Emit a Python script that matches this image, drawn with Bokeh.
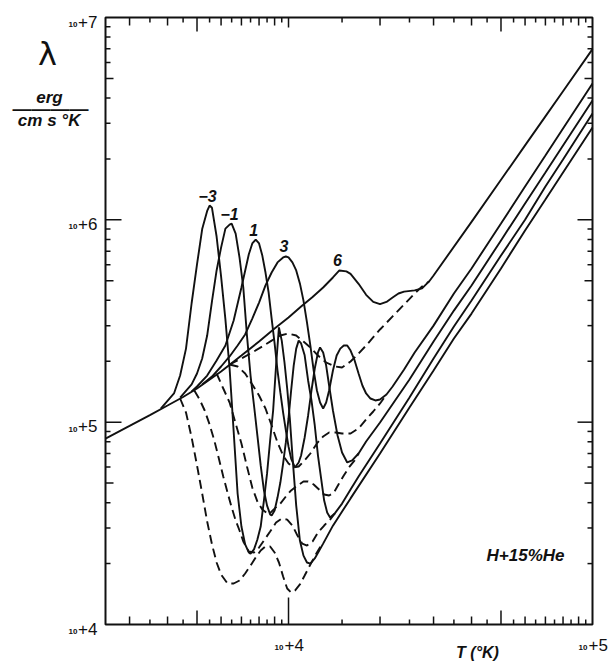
import math
from bokeh.plotting import figure
from bokeh.models import Label, ColumnDataSource, Range1d
from bokeh.core.properties import value
from bokeh.embed import file_html
from bokeh.resources import INLINE

# ---------------- data: (T [K], lambda [erg/(cm s K)]) ----------------
# solid curves, labelled by pressure parameter
solid_6 = [(2500, 8.30e4), (3000, 9.58e4), (3500, 1.084e5), (4000, 1.209e5), (4500, 1.332e5),
           (5000, 1.467e5), (6000, 1.780e5), (7000, 2.136e5), (8000, 2.504e5), (9000, 2.904e5),
           (10000, 3.290e5), (11000, 3.730e5), (12000, 4.155e5), (13000, 4.63e5), (14000, 5.19e5),
           (14700, 5.62e5), (15500, 5.56e5), (16000, 5.41e5), (17000, 4.83e5), (18000, 4.26e5),
           (19000, 3.93e5), (20000, 3.83e5), (21000, 3.93e5), (22000, 4.13e5), (23000, 4.325e5),
           (24000, 4.42e5), (26000, 4.48e5), (27500, 4.58e5), (29000, 4.96e5), (30000, 5.31e5),
           (40000, 9.77e5), (50000, 1.577e6), (60000, 2.333e6), (70000, 3.245e6), (80000, 4.32e6),
           (100000, 6.98e6)]

solid_m3 = [(3800, 1.168e5), (4200, 1.386e5), (4400, 1.70e5), (4600, 2.31e5), (4800, 3.87e5),
            (5000, 6.02e5), (5200, 9.00e5), (5400, 1.106e6), (5500, 1.177e6), (5600, 1.147e6),
            (5800, 8.27e5), (6000, 5.25e5), (6200, 3.22e5), (6400, 1.842e5), (6600, 8.99e4),
            (6800, 4.44e4), (7000, 3.05e4), (7200, 2.49e4), (7400, 2.27e4), (7500, 2.24e4),
            (7700, 2.35e4), (7900, 2.63e4), (8100, 3.05e4), (8300, 4.10e4), (8500, 5.58e4),
            (8700, 8.12e4), (8900, 1.142e5), (9100, 1.905e5), (9300, 2.94e5), (9500, 2.53e5),
            (9700, 1.972e5), (9900, 1.467e5), (10100, 1.043e5), (10300, 6.84e4), (10600, 3.87e4),
            (10900, 2.60e4), (11200, 2.19e4), (11500, 2.025e4), (11800, 2.00e4), (12200, 2.12e4),
            (13000, 2.51e4), (14000, 3.08e4), (16000, 4.20e4), (20000, 7.00e4), (25000, 1.182e5),
            (30000, 1.80e5), (35000, 2.59e5), (40000, 3.44e5), (50000, 5.75e5), (60000, 8.86e5),
            (70000, 1.259e6), (80000, 1.714e6), (100000, 2.86e6)]

solid_m1 = [(4400, 1.324e5), (4800, 1.536e5), (5000, 1.740e5), (5200, 2.064e5), (5400, 2.68e5),
            (5600, 3.95e5), (5800, 5.62e5), (6000, 7.29e5), (6200, 9.05e5), (6400, 9.47e5),
            (6500, 9.58e5), (6700, 8.55e5), (6900, 6.51e5), (7100, 4.63e5), (7300, 2.68e5),
            (7500, 1.70e5), (7700, 1.209e5), (7900, 8.59e4), (8100, 6.11e4), (8300, 4.60e4),
            (8500, 3.87e4), (8700, 3.50e4), (8800, 3.46e4), (9000, 3.66e4), (9200, 4.24e4),
            (9400, 5.03e4), (9600, 6.25e4), (9800, 7.94e4), (10000, 1.043e5), (10200, 1.434e5),
            (10400, 1.905e5), (10600, 2.31e5), (10800, 2.53e5), (11000, 2.45e5), (11300, 2.14e5),
            (11600, 1.607e5), (11900, 1.28e5), (12200, 9.63e4), (12500, 6.84e4), (12800, 5.27e4),
            (13100, 4.10e4), (13400, 3.58e4), (13700, 3.38e4), (14200, 3.54e4), (15000, 3.96e4),
            (16000, 4.65e4), (17000, 5.39e4), (20000, 7.85e4), (25000, 1.324e5), (30000, 2.064e5),
            (35000, 2.97e5), (40000, 3.99e5), (50000, 6.66e5), (60000, 1.0e6), (70000, 1.462e6),
            (80000, 1.987e6), (100000, 3.35e6)]

solid_p1 = [(4800, 1.418e5), (5000, 1.501e5), (5400, 1.70e5), (5800, 2.018e5), (6200, 2.392e5),
            (6600, 3.18e5), (7000, 4.63e5), (7400, 6.74e5), (7600, 7.64e5), (7800, 7.99e5),
            (8000, 7.64e5), (8200, 6.66e5), (8400, 5.49e5), (8600, 4.38e5), (8800, 3.25e5),
            (9000, 2.45e5), (9200, 1.80e5), (9400, 1.402e5), (9600, 1.116e5), (9800, 9.10e4),
            (10000, 7.58e4), (10200, 6.61e4), (10500, 5.97e4), (10800, 6.32e4), (11000, 6.84e4),
            (11300, 8.40e4), (11600, 1.079e5), (11900, 1.434e5), (12200, 1.842e5), (12500, 2.21e5),
            (12700, 2.34e5), (13000, 2.21e5), (13300, 1.905e5), (13600, 1.518e5), (14000, 1.142e5),
            (14500, 8.59e4), (15000, 7.08e4), (15600, 6.32e4), (16200, 6.47e4), (17000, 7.00e4),
            (18000, 8.03e4), (20000, 9.96e4), (25000, 1.625e5), (30000, 2.504e5), (35000, 3.56e5),
            (40000, 4.74e5), (50000, 7.91e5), (60000, 1.205e6), (70000, 1.714e6), (80000, 2.33e6),
            (100000, 3.89e6)]

solid_p3 = [(5200, 1.536e5), (5600, 1.681e5), (6000, 1.884e5), (6400, 2.112e5), (6800, 2.393e5),
            (7200, 2.713e5), (7600, 3.25e5), (8000, 3.90e5), (8400, 4.74e5), (8800, 5.49e5),
            (9200, 6.16e5), (9600, 6.52e5), (9800, 6.59e5), (10000, 6.52e5), (10300, 6.16e5),
            (10600, 5.62e5), (10900, 4.85e5), (11200, 3.99e5), (11500, 3.11e5), (11800, 2.392e5),
            (12100, 1.80e5), (12400, 1.434e5), (12700, 1.251e5), (13000, 1.168e5), (13300, 1.251e5),
            (13600, 1.434e5), (14000, 1.80e5), (14400, 2.136e5), (14800, 2.31e5), (15200, 2.393e5),
            (15600, 2.393e5), (16000, 2.26e5), (16500, 2.018e5), (17000, 1.740e5), (17500, 1.518e5),
            (18000, 1.386e5), (18600, 1.309e5), (19300, 1.28e5), (20000, 1.294e5), (21000, 1.37e5),
            (22000, 1.501e5), (24000, 1.821e5), (26000, 2.21e5), (30000, 3.00e5), (35000, 4.325e5),
            (40000, 5.75e5), (50000, 9.59e5), (60000, 1.462e6), (70000, 2.08e6), (80000, 2.83e6),
            (100000, 4.72e6)]

# dashed curves
dashed_6 = [(6400, 1.928e5), (7000, 2.064e5), (7600, 2.21e5), (8200, 2.366e5), (8800, 2.53e5),
            (9400, 2.68e5), (10000, 2.743e5), (10600, 2.68e5), (11200, 2.504e5), (11800, 2.339e5),
            (12500, 2.136e5), (13300, 1.972e5), (14200, 1.884e5), (15000, 1.863e5), (16000, 1.995e5),
            (17000, 2.185e5), (18000, 2.393e5), (20000, 2.871e5), (22000, 3.33e5), (24000, 3.815e5),
            (26000, 4.325e5), (27500, 4.68e5), (29000, 4.96e5)]

dashed_m3 = [(4400, 1.309e5), (4600, 1.116e5), (4800, 8.40e4), (5000, 6.11e4), (5200, 4.44e4),
             (5400, 3.23e4), (5600, 2.49e4), (5800, 2.025e4), (6000, 1.766e4), (6300, 1.594e4),
             (6600, 1.594e4), (6900, 1.65e4), (7200, 1.787e4), (7500, 1.957e4), (7800, 2.144e4),
             (8100, 2.32e4), (8400, 2.43e4), (8700, 2.43e4), (9000, 2.27e4), (9300, 2.025e4),
             (9600, 1.727e4), (9900, 1.506e4), (10200, 1.439e4), (10500, 1.472e4), (10900, 1.577e4),
             (11300, 1.746e4), (11800, 1.979e4), (12400, 2.27e4), (12800, 2.457e4)]

dashed_m1 = [(4900, 1.434e5), (5100, 1.294e5), (5300, 1.142e5), (5500, 9.74e4), (5700, 8.12e4),
             (5900, 6.61e4), (6100, 5.39e4), (6300, 4.49e4), (6500, 3.79e4), (6700, 3.27e4),
             (6900, 2.915e4), (7100, 2.57e4), (7400, 2.295e4), (7700, 2.27e4), (8000, 2.40e4),
             (8300, 2.60e4), (8700, 2.88e4), (9100, 3.19e4), (9500, 3.34e4), (9900, 3.30e4),
             (10300, 3.085e4), (10700, 2.75e4), (11100, 2.51e4), (11500, 2.457e4), (12000, 2.57e4),
             (12500, 2.85e4), (13100, 3.085e4), (13700, 3.30e4), (14200, 3.54e4)]

dashed_p1 = [(5800, 1.740e5), (6100, 1.467e5), (6400, 1.251e5), (6700, 9.85e4), (7000, 7.85e4),
             (7300, 6.04e4), (7600, 4.75e4), (7900, 4.05e4), (8200, 3.70e4), (8600, 3.50e4),
             (9000, 3.74e4), (9400, 3.96e4), (9800, 4.29e4), (10200, 4.60e4), (10700, 4.86e4),
             (11200, 5.09e4), (11600, 5.09e4), (12100, 4.92e4), (12600, 4.65e4), (13100, 4.39e4),
             (13600, 4.34e4), (14100, 4.49e4), (14600, 4.92e4), (15200, 5.45e4), (15800, 5.97e4),
             (16500, 6.47e4), (17000, 7.00e4)]

dashed_p3 = [(6400, 1.928e5), (6800, 1.884e5), (7200, 1.740e5), (7600, 1.536e5), (8000, 1.354e5),
             (8400, 1.168e5), (8800, 9.63e4), (9200, 7.94e4), (9600, 6.84e4), (10000, 6.25e4),
             (10400, 5.97e4), (10800, 6.04e4), (11300, 6.47e4), (11800, 7.00e4), (12400, 7.85e4),
             (13000, 8.50e4), (13600, 8.89e4), (14300, 8.89e4), (15000, 8.79e4), (16000, 8.79e4),
             (17000, 9.31e4), (18000, 1.031e5), (19000, 1.129e5), (20000, 1.237e5), (21000, 1.37e5)]

curve_labels = ["\u22123", "\u22121", "1", "3", "6"]
solid_curves = [solid_m3, solid_m1, solid_p1, solid_p3, solid_6]
dashed_curves = [dashed_m3, dashed_m1, dashed_p1, dashed_p3, dashed_6]

# axes: limits and tick values
x_lo, x_hi = 2500, 100000
y_lo, y_hi = 1e4, 1e7
x_ticks = list(range(3000, 10000, 500)) + [10000] + list(range(15000, 100000, 5000))
y_ticks = [k * 10 ** e for e in (4, 5, 6) for k in range(1, 10)] + [1e7]
x_tick_text = [("+4", 1e4), ("+5", 1e5)]
y_tick_text = [("+4", 1e4), ("+5", 1e5), ("+6", 1e6), ("+7", 1e7)]

INK = "#111111"
FONT = "Liberation Sans"

# ---------------- layout: plot box inside a full-canvas frame ----------------
W, H = 613, 662
BOX_L, BOX_R, BOX_T, BOX_B = 105, 592, 17, 624
dec_x = (BOX_R - BOX_L) / math.log10(x_hi / x_lo)
dec_y = (BOX_B - BOX_T) / math.log10(y_hi / y_lo)
xr = Range1d(10 ** (math.log10(x_lo) - BOX_L / dec_x), 10 ** (math.log10(x_hi) + (W - BOX_R) / dec_x))
yr = Range1d(10 ** (math.log10(y_lo) - (H - BOX_B) / dec_y), 10 ** (math.log10(y_hi) + BOX_T / dec_y))

p = figure(width=W, height=H, x_axis_type="log", y_axis_type="log", x_range=xr, y_range=yr,
           output_backend="svg", toolbar_location=None, min_border=0,
           x_axis_location=None, y_axis_location=None)
p.grid.visible = False
p.outline_line_color = None
p.background_fill_color = "white"
p.border_fill_color = "white"


def fx(px):  # multiplicative step in x for a pixel length
    return 10 ** (px / dec_x)


def fy(px):
    return 10 ** (px / dec_y)


def xtick_len(t, bottom=True):
    if t == 10000:
        return 27 if bottom else 10
    if t in (5000, 50000):
        return 14
    if (t < 10000 and t % 1000 == 0) or (t > 10000 and t % 10000 == 0):
        return 8
    return 5


def ytick_len(v, left=True):
    k = round(v / 10 ** math.floor(math.log10(v) + 1e-9))
    if k == 1:
        return 16 if left else 15
    if k == 5:
        return 8
    return 5


# ticks (drawn inward from each side of the box)
x0s, y0s, x1s, y1s = [], [], [], []
for t in x_ticks:
    x0s += [t, t]
    x1s += [t, t]
    y0s += [y_lo, y_hi]
    y1s += [y_lo * fy(xtick_len(t, True)), y_hi / fy(xtick_len(t, False))]
for v in y_ticks[1:-1]:
    y0s += [v, v]
    y1s += [v, v]
    x0s += [x_lo, x_hi]
    x1s += [x_lo * fx(ytick_len(v, True)), x_hi / fx(ytick_len(v, False))]
p.segment(x0=x0s, y0=y0s, x1=x1s, y1=y1s, line_color=INK, line_width=1.5)

# plot box
p.quad(left=[x_lo], right=[x_hi], bottom=[y_lo], top=[y_hi], fill_color=None,
       line_color=INK, line_width=2)

# ---------------- curves ----------------
for c in solid_curves:
    T, L = zip(*c)
    p.line(list(T), list(L), line_color=INK, line_width=1.9)
for c in dashed_curves:
    T, L = zip(*c)
    p.line(list(T), list(L), line_color=INK, line_width=1.9, line_dash="9 5")

# curve labels above the first maximum of each solid curve
lx, lyv = [], []
for c in solid_curves:
    first = [pt for pt in c if pt[0] < 20000]
    t, l = max(first, key=lambda pt: pt[1])
    lx.append(t)
    lyv.append(l)
src = ColumnDataSource(dict(x=lx, y=lyv, t=curve_labels))
p.text(x="x", y="y", text="t", source=src, text_font=value(FONT), text_font_style="bold italic",
       text_font_size="16px", text_align="center", text_baseline="bottom", x_offset=-2, y_offset=-4,
       text_color=INK)

# ---------------- tick labels ----------------
for sup, yv in y_tick_text:
    p.add_layout(Label(x=x_lo, y=yv, text=sup, x_offset=-8, y_offset=-4, text_align="right",
                       text_baseline="middle", text_font=FONT, text_font_size="17px",
                       text_color=INK))
    p.add_layout(Label(x=x_lo, y=yv, text="10", x_offset=-28, y_offset=-7, text_align="right",
                       text_baseline="middle", text_font=FONT, text_font_size="8px",
                       text_font_style="bold", text_color=INK))
for sup, xv in x_tick_text:
    p.add_layout(Label(x=xv, y=y_lo, text=sup, x_offset=-4, y_offset=-20, text_align="left",
                       text_baseline="middle", text_font=FONT, text_font_size="17px",
                       text_color=INK))
    p.add_layout(Label(x=xv, y=y_lo, text="10", x_offset=-5, y_offset=-23, text_align="right",
                       text_baseline="middle", text_font=FONT, text_font_size="8px",
                       text_font_style="bold", text_color=INK))

# ---------------- axis titles & annotation ----------------
p.add_layout(Label(x=x_lo, y=y_hi, text="λ", x_offset=-58, y_offset=-36, text_align="center",
                   text_baseline="middle", text_font="DejaVu Sans", text_font_size="32px",
                   text_color=INK))
p.add_layout(Label(x=x_lo, y=y_hi, text="erg", x_offset=-56, y_offset=-80, text_align="center",
                   text_baseline="middle", text_font=FONT, text_font_style="bold italic",
                   text_font_size="17px", text_color=INK))
p.add_layout(Label(x=x_lo, y=y_hi, text="\u2014\u2014\u2014\u2014", x_offset=-55, y_offset=-91,
                   text_align="center", text_baseline="middle", text_font=FONT,
                   text_font_size="19px", text_font_style="bold", text_color=INK))
p.add_layout(Label(x=x_lo, y=y_hi, text="cm  s °K", x_offset=-54, y_offset=-103, text_align="center",
                   text_baseline="middle", text_font=FONT, text_font_style="bold italic",
                   text_font_size="17px", text_color=INK))
p.add_layout(Label(x=x_hi, y=y_lo, text="T (°K)", x_offset=-115, y_offset=-28, text_align="center",
                   text_baseline="middle", text_font=FONT, text_font_style="bold italic",
                   text_font_size="16px", text_color=INK))
p.add_layout(Label(x=x_hi, y=y_lo, text="H+15%He", x_offset=-67, y_offset=69, text_align="center",
                   text_baseline="middle", text_font=FONT, text_font_style="bold italic",
                   text_font_size="17px", text_color=INK))

open("out.html", "w").write(file_html(p, INLINE))
